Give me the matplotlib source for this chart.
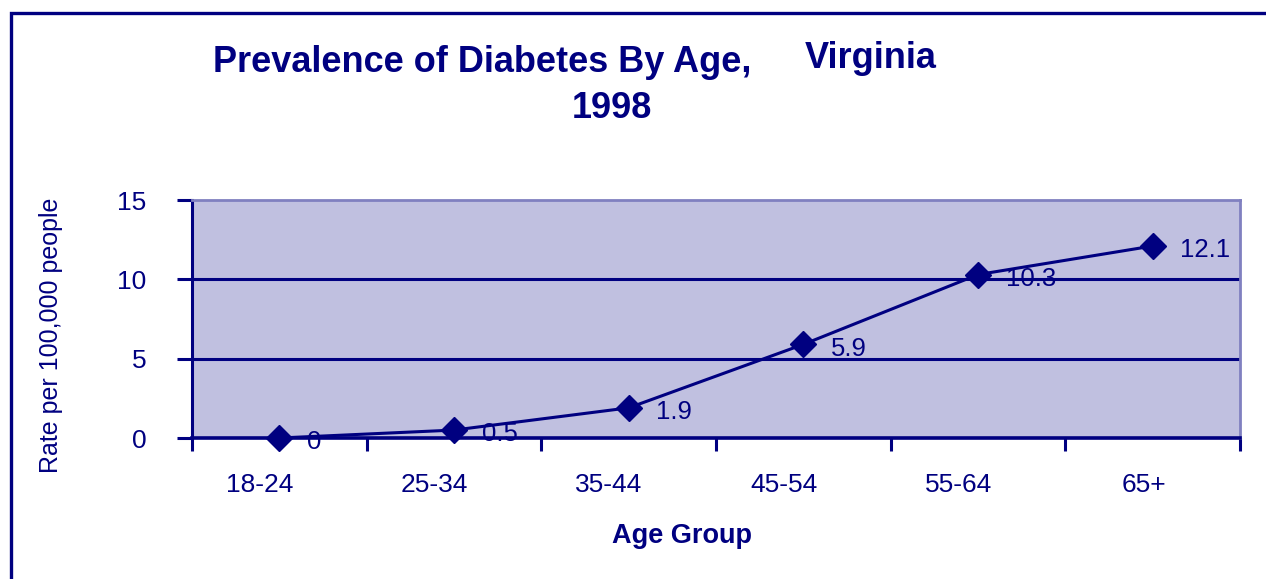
import matplotlib.pyplot as plt
import matplotlib
from matplotlib.patches import Rectangle

matplotlib.rcParams['font.family'] = ['Liberation Sans', 'DejaVu Sans']

age_groups = ['18-24', '25-34', '35-44', '45-54', '55-64', '65+']
rates = [0, 0.5, 1.9, 5.9, 10.3, 12.1]
y_ticks = [0, 5, 10, 15]

navy = '#000080'
fill = '#C0C0E0'
light = '#8080C0'

fig = plt.figure(figsize=(12.66, 5.79), dpi=100)

# outer chart border (only left and top visible in the picture)
fig.patches.append(Rectangle((11 / 1266, -0.1), 1.2, 1 - 13 / 579 + 0.1,
                             transform=fig.transFigure, fill=False,
                             edgecolor=navy, linewidth=2.4))

ax = fig.add_axes([192 / 1266, 1 - 438 / 579, 1048 / 1266, 238 / 579])
ax.set_facecolor(fill)

x = list(range(len(age_groups)))
ax.plot(x, rates, color=navy, linewidth=2.2, marker='D', markersize=13,
        markeredgecolor=navy, markerfacecolor=navy, zorder=5, clip_on=False)

for xi, v in zip(x, rates):
    ax.annotate(str(v), (xi, v), xytext=(20, -3), textcoords='offset points',
                ha='left', va='center', fontsize=18.5, color=navy, zorder=6)

ax.set_xlim(-0.5, len(age_groups) - 0.5)
ax.set_ylim(0, 15)
ax.set_yticks(y_ticks)
# labels sit right-aligned a little past the category centre
ax.set_xticks([xi + 0.08 for xi in x])
ax.set_xticklabels(age_groups, ha='right')
ax.set_xticks([i - 0.5 for i in range(len(age_groups) + 1)], minor=True)

for yv in [5, 10]:
    ax.axhline(yv, color=navy, linewidth=2.2, zorder=2)

ax.tick_params(axis='x', which='major', length=0, pad=25, labelsize=19, labelcolor=navy)
ax.tick_params(axis='x', which='minor', length=9, width=2.2, color=navy, direction='out')
ax.tick_params(axis='y', length=11, width=2.2, color=navy, pad=22, labelsize=19, labelcolor=navy)

ax.spines['left'].set_color(navy)
ax.spines['left'].set_linewidth(2.2)
ax.spines['bottom'].set_color(navy)
ax.spines['bottom'].set_linewidth(2.6)
ax.spines['top'].set_color(light)
ax.spines['top'].set_linewidth(2)
ax.spines['right'].set_color(light)
ax.spines['right'].set_linewidth(2)

fig.text(213 / 1266, 1 - 72 / 579, 'Prevalence of Diabetes By Age,', fontsize=26,
         fontweight='bold', color=navy, ha='left', va='baseline')
fig.text(805 / 1266, 1 - 68 / 579, 'Virginia', fontsize=26,
         fontweight='bold', color=navy, ha='left', va='baseline')
fig.text(612 / 1266, 1 - 118 / 579, '1998', fontsize=26,
         fontweight='bold', color=navy, ha='center', va='baseline')

fig.text(51 / 1266, 1 - 335 / 579, 'Rate per 100,000 people', fontsize=18,
         color=navy, rotation=90, ha='center', va='center')
fig.text(682 / 1266, 1 - 543 / 579, 'Age Group', fontsize=19.5,
         fontweight='bold', color=navy, ha='center', va='baseline')

fig.savefig('out.png', dpi=100)
